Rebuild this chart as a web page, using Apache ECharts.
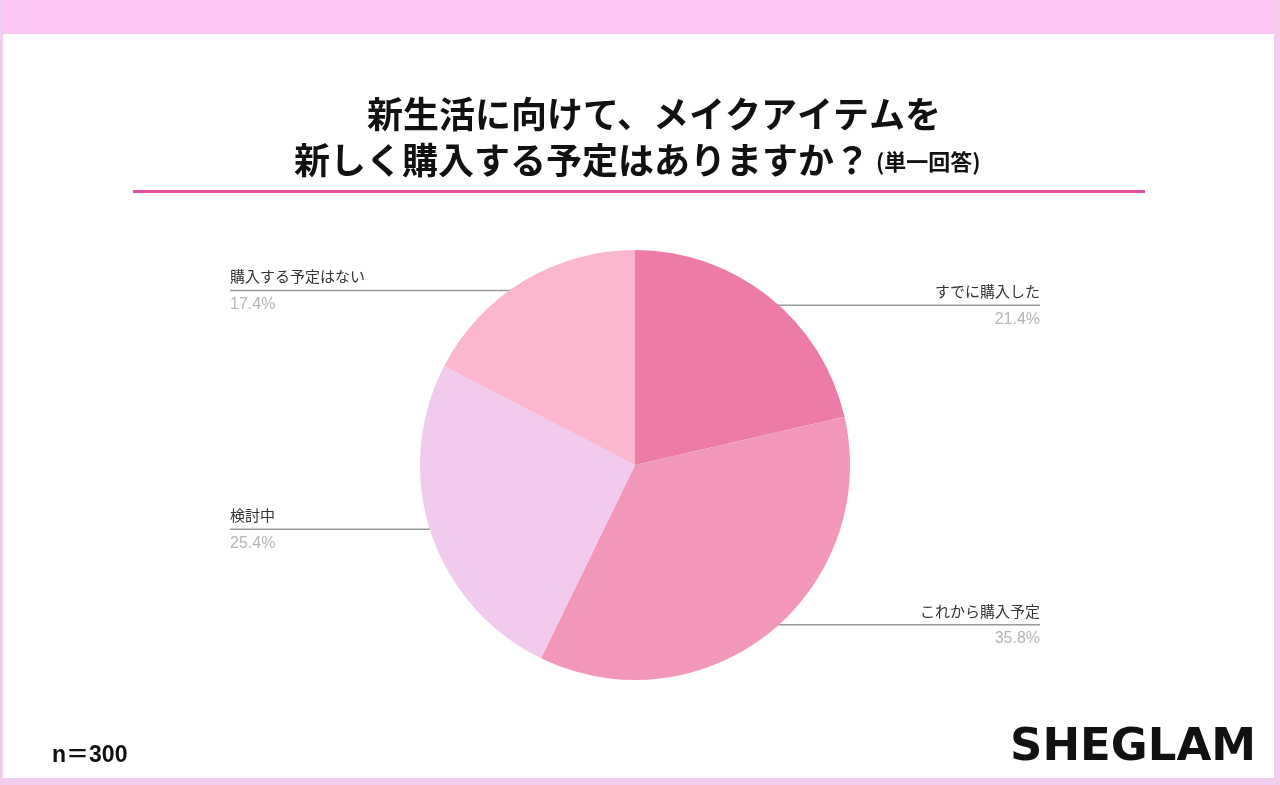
<!DOCTYPE html>
<html><head><meta charset="utf-8">
<script src="https://cdn.jsdelivr.net/npm/echarts@6/dist/echarts.min.js"></script>
<style>html,body{margin:0;padding:0;background:#fff;}#c{width:1280px;height:785px;}</style>
</head><body><div id="c"></div>
<script>
const categories = ['すでに購入した', 'これから購入予定', '検討中', '購入する予定はない'];
const values = [21.4, 35.8, 25.4, 17.4];
const colors = ['#EC7BA8', '#F296BA', '#F2CAEE', '#FBB6CF'];
const titleLine1 = '新生活に向けて、メイクアイテムを';
const titleLine2 = '新しく購入する予定はありますか？';
const titleNote = '(単一回答)';
const sampleNote = 'n＝300';
const brand = 'SHEGLAM';

const chart = echarts.init(document.getElementById('c'));
const JP = '"Noto Sans CJK JP", "Noto Sans", sans-serif';
const PIE_LEFT = 230, PIE_RIGHT = 240, PIE_TOP = 250, PIE_BOTTOM = 105;
const CX = (PIE_LEFT + (1280 - PIE_RIGHT)) / 2, CY = (PIE_TOP + (785 - PIE_BOTTOM)) / 2;
chart.setOption({
  backgroundColor: '#fff',
  animation: false,
  graphic: [
    { type: 'rect', shape: { x: 0, y: 0, width: 1280, height: 34 }, style: { fill: '#FBC6F1' }, silent: true },
    { type: 'rect', shape: { x: 0, y: 0, width: 3, height: 785 }, style: { fill: '#F3CDEE' }, silent: true },
    { type: 'rect', shape: { x: 1274, y: 0, width: 6, height: 785 }, style: { fill: '#F3CDEE' }, silent: true },
    { type: 'rect', shape: { x: 0, y: 778, width: 1280, height: 7 }, style: { fill: '#F3CDEE' }, silent: true },
    { type: 'text', x: 654, y: 114, style: { text: titleLine1, font: 'bold 36px ' + JP, fill: '#111', align: 'center', verticalAlign: 'middle' } },
    { type: 'text', x: 870, y: 160, style: { text: titleLine2, font: 'bold 36px ' + JP, fill: '#111', align: 'right', verticalAlign: 'middle' } },
    { type: 'text', x: 876, y: 162, style: { text: titleNote, font: 'bold 22px ' + JP, fill: '#111', align: 'left', verticalAlign: 'middle' } },
    { type: 'rect', shape: { x: 133, y: 190, width: 1012, height: 3 }, style: { fill: '#E64FA0' }, silent: true },
    { type: 'text', x: 52, y: 756, style: { text: sampleNote, font: 'bold 23px "Liberation Sans", "Noto Sans CJK JP", sans-serif', fill: '#111', verticalAlign: 'middle' } },
    { type: 'text', x: 1256, y: 748, style: { text: brand, font: '900 45px "DejaVu Sans", "Liberation Sans", sans-serif', fill: '#111', align: 'right', verticalAlign: 'middle' } }
  ],
  series: [{
    type: 'pie',
    left: PIE_LEFT, right: PIE_RIGHT, top: PIE_TOP, bottom: PIE_BOTTOM,
    center: ['50%', '50%'],
    radius: 215,
    startAngle: 90,
    clockwise: true,
    data: categories.map((n, i) => ({ name: n, value: values[i], itemStyle: { color: colors[i] } })),
    itemStyle: { borderWidth: 0 },
    label: {
      position: 'outer',
      alignTo: 'edge',
      edgeDistance: 0,
      formatter: p => '{n|' + p.name + '}\n{v|' + p.value.toFixed(1) + '%}',
      rich: {
        n: { fontSize: 15, color: '#333', fontFamily: JP, lineHeight: 28 },
        v: { fontSize: 16, color: '#b5b5b5', fontFamily: '"Liberation Sans", Arial, sans-serif', lineHeight: 28 }
      }
    },
    labelLine: { show: true, length: 0, length2: 10, lineStyle: { color: '#9a9a9a', width: 1.5 } },
    labelLayout: function (params) {
      const isLeft = params.labelRect.x < CX;
      const pts = params.labelLinePoints;
      if (!pts) return {};
      const oldY = pts[2][1];
      const sx = CX + (pts[0][0] - CX) * 0.95;
      const sy = CY + (pts[0][1] - CY) * 0.95;
      const endX = isLeft ? params.labelRect.x : params.labelRect.x + params.labelRect.width;
      return {
        dy: sy - oldY,
        labelLinePoints: [[sx, sy], [sx, sy], [endX, sy]]
      };
    }
  }]
});
</script></body></html>
